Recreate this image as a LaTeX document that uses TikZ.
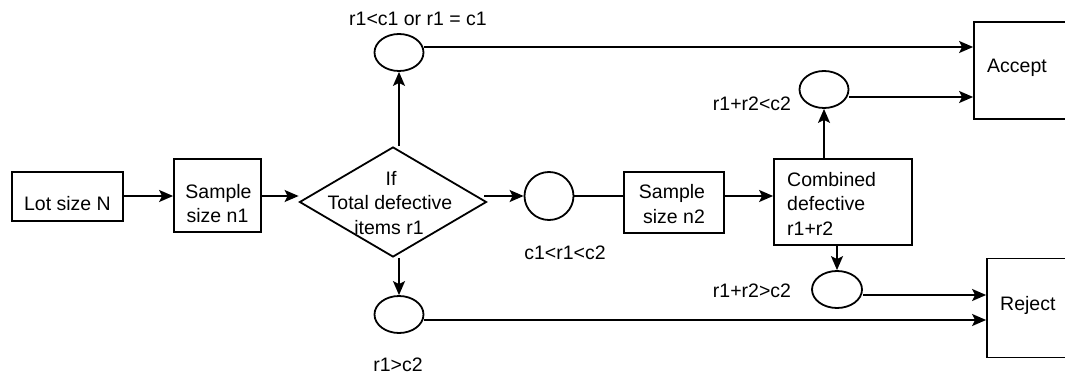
\documentclass[tikz,border=0pt]{standalone}
\usepackage{fontspec}
\setmainfont{Liberation Sans}
\usetikzlibrary{shapes.geometric,arrows.meta}
\begin{document}
\begin{tikzpicture}[x=1pt,y=-1pt,
  every node/.style={font=\fontsize{19.5}{24.5}\selectfont},
  box/.style={draw,line width=1.8pt,rectangle,inner sep=0pt},
  oval/.style={draw,line width=1.8pt,ellipse,inner sep=0pt,minimum width=49pt,minimum height=37pt},
  circ/.style={draw,line width=1.8pt,ellipse,inner sep=0pt,minimum width=49pt,minimum height=48pt},
  dia/.style={draw,line width=1.8pt,diamond,inner sep=0pt,minimum width=187pt,minimum height=110pt},
  txt/.style={anchor=base,inner sep=0pt},
  txtl/.style={anchor=base west,inner sep=0pt},
  conn/.style={line width=1.8pt},
  arr/.style={line width=1.8pt,-{Stealth[length=14pt,width=12pt,inset=3pt]}}
]
\clip (0,0) rectangle (1065,377);
% boxes
\node[box,minimum width=111pt,minimum height=49pt] (lot) at (67.5,196.5) {};
\node[txt] (lott) at (67.5,210) {Lot size N};
\node[box,minimum width=87pt,minimum height=73pt] (s1) at (217.5,195.5) {};
\node[txt] (s1a) at (218.5,198.3) {Sample};
\node[txt] (s1b) at (217.5,222.7) {size n1};
\node[dia] (d) at (393,202) {};
\node[txt] (da) at (391,185.5) {If};
\node[txt] (db) at (390,209.5) {Total defective};
\node[txt] (dc) at (389,234) {items r1};
\node[oval] (e1) at (399,52.5) {};
\node[oval] (e2) at (399,314.5) {};
\node[circ] (c) at (549,196) {};
\node[box,minimum width=100pt,minimum height=61pt] (s2) at (674,202.5) {};
\node[txt] (s2a) at (672,198.3) {Sample};
\node[txt] (s2b) at (674,223.3) {size n2};
\node[box,minimum width=138pt,minimum height=86pt] (comb) at (843,202) {};
\node[txtl] (ca) at (787,186) {Combined};
\node[txtl] (cb) at (787,210) {defective};
\node[txtl] (cc) at (787,235) {r1+r2};
\node[oval] (e3) at (824,89.5) {};
\node[oval,minimum width=50pt] (e4) at (837,289.5) {};
\node[box,minimum width=110pt,minimum height=97pt] (acc) at (1029,70.5) {};
\node[txtl] (acct) at (987,73) {Accept};
\node[box,minimum width=97pt,minimum height=99pt] (rej) at (1035.5,308) {};
\node[txtl] (rejt) at (1000,310) {Reject};
% labels
\node[txt] (l1) at (418,25.7) {r1<c1 or r1 = c1};
\node[txt] (l2) at (565,259.3) {c1<r1<c2};
\node[txt] (l3) at (398,371.7) {r1>c2};
\node[txt] (l4) at (752,111) {r1+r2<c2};
\node[txt] (l5) at (752,297.7) {r1+r2>c2};
% connectors
\draw[arr] (lot.east |- 0,196) -- (s1.west |- 0,196);
\draw[arr] (s1.east |- 0,196) -- (d.west |- 0,196);
\draw[arr] ([xshift=-3pt]d.east |- c.west) -- (c.west);
\draw[arr] (e1.south |- d.north) -- (e1.south);
\draw[arr] (e2.north |- d.south) -- (e2.north);
\draw[arr] ([yshift=5.5pt]e1.east) -- ([yshift=5.5pt]e1.east -| acc.west);
\draw[conn] (c.east) -- (s2.west |- c.east);
\draw[arr] (s2.east |- c.east) -- (comb.west |- c.east);
\draw[arr] (e3.south |- comb.north) -- (e3.south);
\draw[arr] ([yshift=-7.5pt]e3.east) -- ([yshift=-7.5pt]e3.east -| acc.west);
\draw[arr] (e4.north |- comb.south) -- (e4.north);
\draw[arr] ([yshift=-5.5pt]e4.east) -- ([yshift=-5.5pt]e4.east -| rej.west);
\draw[arr] ([yshift=-5.5pt]e2.east) -- ([yshift=-5.5pt]e2.east -| rej.west);
\end{tikzpicture}
\end{document}
